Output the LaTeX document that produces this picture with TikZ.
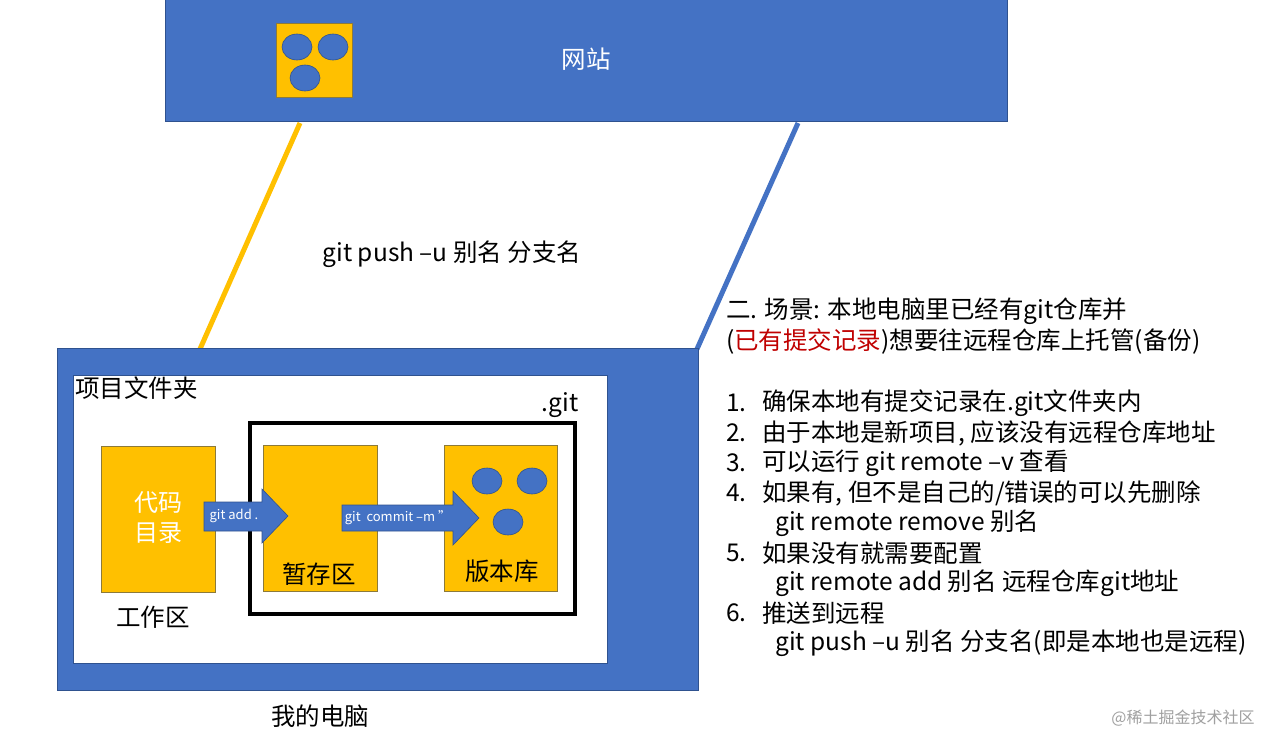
\documentclass[tikz,border=0pt]{standalone}
\usepackage{fontspec}
\setmainfont{Noto Sans CJK SC}
\definecolor{bblue}{HTML}{4472C4}
\definecolor{bborder}{HTML}{2F528F}
\definecolor{yel}{HTML}{FFC000}
\definecolor{yborder}{HTML}{8C7A3A}
\definecolor{dred}{HTML}{C00000}
\definecolor{wm}{HTML}{A0A0A0}
\tikzset{
  bluebox/.style={draw=bborder, line width=0.8pt, fill=bblue},
  yelbox/.style={draw=yborder, line width=0.6pt, fill=yel},
  dot/.style={draw=bborder, line width=0.6pt, fill=bblue},
  big/.style={font=\fontsize{24.5}{30}\selectfont, inner sep=0pt},
  small/.style={font=\fontsize{13}{15}\selectfont, inner sep=0pt, text=white},
  txt/.style={font=\fontsize{24.5}{30}\selectfont, inner sep=0pt, anchor=west},
  blockarrow/.style={fill=bblue, draw=bborder, line width=0.6pt},
}
\begin{document}
\begin{tikzpicture}[x=1pt,y=-1pt]
\fill[white] (0,0) rectangle (1269,734);
\useasboundingbox (0,0) rectangle (1269,734);

% website
\draw[bluebox] (165,-2) rectangle (1007,121);
\draw[yelbox] (276,23) rectangle (352,97);
\draw[dot] (297,47) ellipse [x radius=15, y radius=13];
\draw[dot] (333,47) ellipse [x radius=15, y radius=13];
\draw[dot] (305,78) ellipse [x radius=15, y radius=13];
\node[big, text=white] (sitelabel) at (586,59) {网站};

% connectors
\coordinate (ytop) at (300,123);
\coordinate (ybot) at (200,349);
\coordinate (btop) at (798,123);
\coordinate (bbot) at (697,349);
\draw[yel, line width=5pt] (ytop) -- (ybot);
\draw[bblue, line width=5pt] (btop) -- (bbot);
\node[big] (push) at (452,254) {git push –u 别名 分支名};

% computer
\draw[bluebox] (57,348) rectangle (698,690);
\draw[fill=white, draw=bborder, line width=0.5pt] (73,375) rectangle (607,663);
\node[big, anchor=west] (folder) at (75,388) {项目文件夹};
\node[big] (gitlabel) at (560,405) {.git};
\draw[black, line width=4pt] (250,423) rectangle (575,614);

% boxes
\draw[yelbox] (101,446) rectangle (215,592);
\node[big, text=white, align=center, font=\fontsize{24}{30}\selectfont] (code) at (158,518) {代码\\目录};
\draw[yelbox] (263,445) rectangle (377,591);
\node[big] (stage) at (319,574) {暂存区};
\draw[yelbox] (444,445) rectangle (557,591);
\node[big] (repo) at (502,571) {版本库};
\draw[dot] (487,481) ellipse [x radius=15, y radius=13];
\draw[dot] (532,481) ellipse [x radius=15, y radius=13];
\draw[dot] (508,522) ellipse [x radius=15, y radius=13];
\node[big] (work) at (153,617) {工作区};

% block arrows
\draw[blockarrow] (204,502) -- (262,502) -- (262,489) -- (288,516) -- (262,543) -- (262,531) -- (204,531) -- cycle;
\node[small] (addlbl) at (234,516) {git add .};
\draw[blockarrow] (342,505) -- (453,505) -- (453,491) -- (479,518) -- (453,545) -- (453,531) -- (342,531) -- cycle;
\node[small] (commitlbl) at (398,518) {git\ \ commit –m ''};

\node[big] (pc) at (320,716) {我的电脑};

% right text
\node[txt] (l1) at (726,311) {二. 场景: 本地电脑里已经有git仓库并};
\node[txt] (l2) at (726,341) {(\textcolor{dred}{已有提交记录})想要往远程仓库上托管(备份)};
\node[txt] (n1) at (726,403) {1.};
\node[txt] (t1) at (762,403) {确保本地有提交记录在.git文件夹内};
\node[txt] (n2) at (726,433) {2.};
\node[txt] (t2) at (762,433) {由于本地是新项目, 应该没有远程仓库地址};
\node[txt] (n3) at (726,463) {3.};
\node[txt] (t3) at (762,463) {可以运行 git remote –v 查看};
\node[txt] (n4) at (726,493) {4.};
\node[txt] (t4) at (762,493) {如果有, 但不是自己的/错误的可以先删除};
\node[txt] (t4b) at (775,523) {git remote remove 别名};
\node[txt] (n5) at (726,553) {5.};
\node[txt] (t5) at (762,553) {如果没有就需要配置};
\node[txt] (t5b) at (775,583) {git remote add 别名 远程仓库git地址};
\node[txt] (n6) at (726,613) {6.};
\node[txt] (t6) at (762,613) {推送到远程};
\node[txt] (t6b) at (775,643) {git push –u 别名 分支名(即是本地也是远程)};

\node[font=\fontsize{16}{18}\selectfont, text=wm, inner sep=0pt] (wmk) at (1183,718) {@稀土掘金技术社区};
\end{tikzpicture}
\end{document}
